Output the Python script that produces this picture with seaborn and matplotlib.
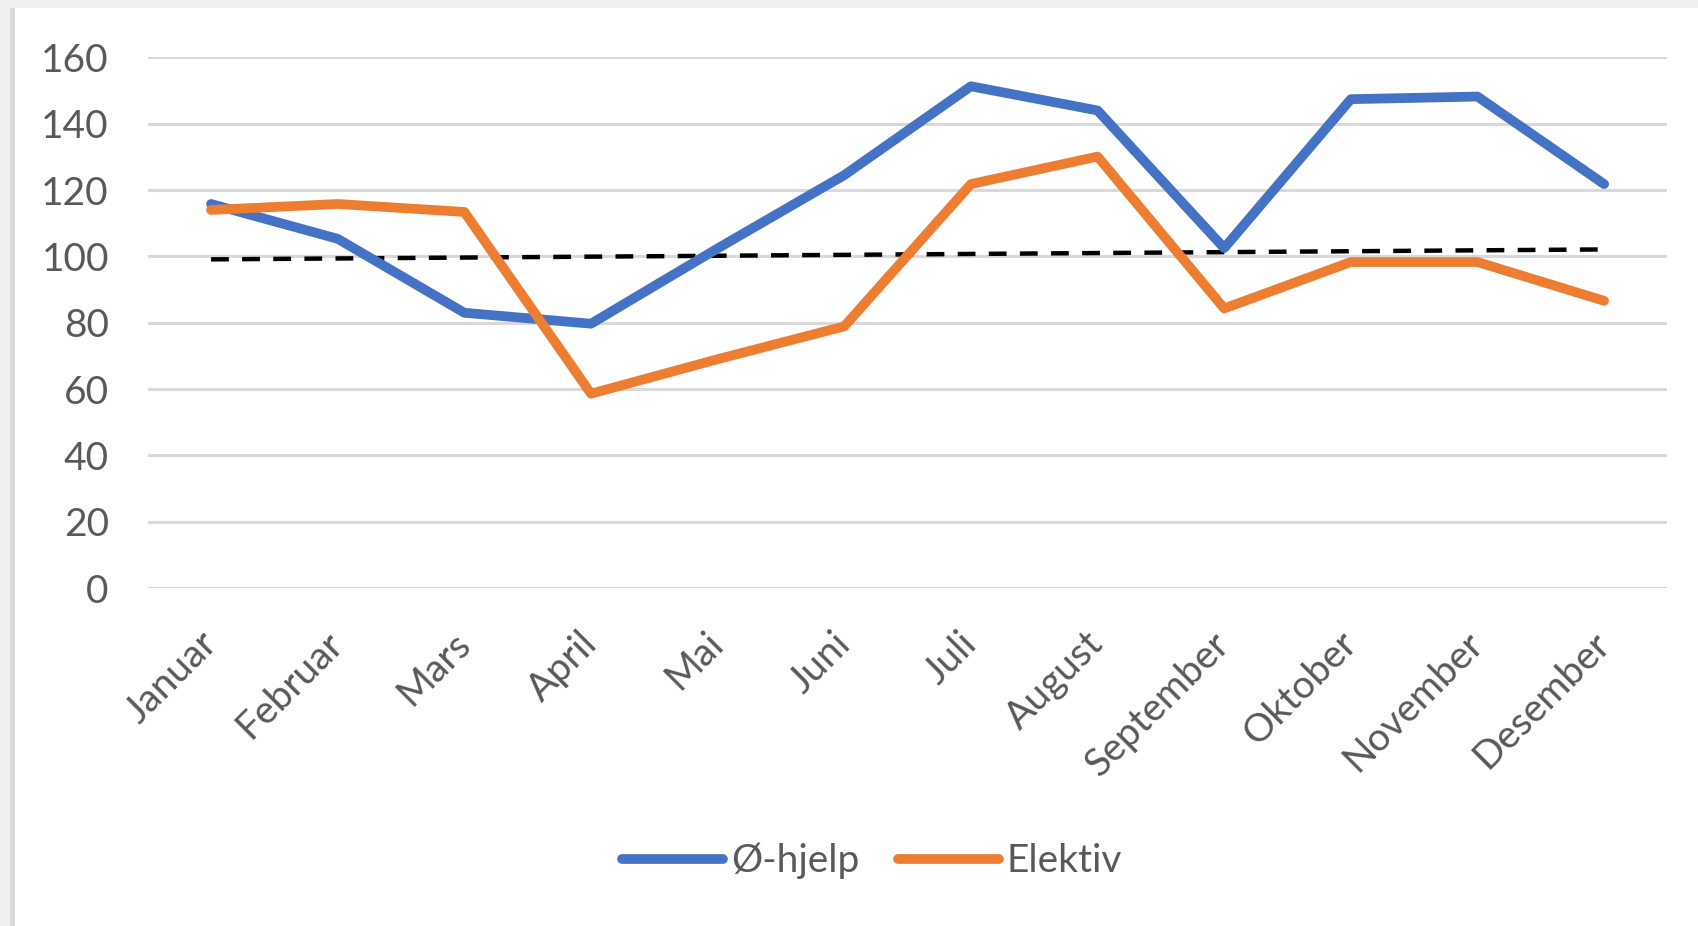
import matplotlib
matplotlib.use("Agg")
import matplotlib.pyplot as plt
from matplotlib.patches import Rectangle
import seaborn as sns
import pandas as pd
import numpy as np

months = ["Januar", "Februar", "Mars", "April", "Mai", "Juni", "Juli",
          "August", "September", "Oktober", "November", "Desember"]
o_hjelp = [115.8, 105.3, 83.0, 79.7, 102.4, 124.5, 151.3, 144.0, 102.5, 147.4, 148.2, 121.8]
elektiv = [114.0, 115.8, 113.4, 58.6, 69.0, 78.9, 121.8, 130.1, 84.3, 98.3, 98.3, 86.6]
trend_months = ["Januar", "Desember"]
trend_values = [99.1, 102.1]
series_names = ["Ø-hjelp", "Elektiv"]
yticks = [0, 20, 40, 60, 80, 100, 120, 140, 160]

BLUE = "#4472C4"
ORANGE = "#ED7D31"
TEXT = "#595959"
GRID = "#D9D9D9"

sns.set_theme(style="white")
plt.rcParams["font.family"] = ["Lato", "DejaVu Sans"]

df = pd.DataFrame({
    "Måned": months * 2,
    "pos": list(range(len(months))) * 2,
    "Verdi": o_hjelp + elektiv,
    "Serie": [series_names[0]] * len(months) + [series_names[1]] * len(months),
})
trend_df = pd.DataFrame({
    "pos": [months.index(m) for m in trend_months],
    "Verdi": trend_values,
})

fig = plt.figure(figsize=(16.98, 9.26), dpi=100)
ax = fig.add_axes([0.087, 0.365, 0.895, 0.573])

for y in yticks:
    ax.axhline(y, color=GRID, lw=2.2, zorder=0)

sns.lineplot(data=trend_df, x="pos", y="Verdi", ax=ax, color="black",
             lw=3.2, dashes=False, legend=False, zorder=2)
ax.lines[-1].set_linestyle((0, (4, 3)))

sns.lineplot(data=df, x="pos", y="Verdi", hue="Serie", hue_order=series_names,
             palette=[BLUE, ORANGE], lw=7, ax=ax, zorder=3, sort=False)
for ln in ax.lines:
    ln.set_solid_joinstyle("round")
    ln.set_solid_capstyle("round")

ax.set_xlim(-0.5, len(months) - 0.5)
ax.set_ylim(0, 160)
ax.set_yticks(yticks)
ax.set_yticklabels([str(v) for v in yticks])
ax.set_xticks(range(len(months)))
ax.set_xticklabels(months, rotation=45, ha="right", va="center",
                   rotation_mode="anchor")
ax.tick_params(axis="y", length=0, pad=28, labelsize=28, labelcolor=TEXT)
ax.tick_params(axis="x", length=0, pad=36, labelsize=28, labelcolor=TEXT)
ax.set_xlabel("")
ax.set_ylabel("")
for s in ax.spines.values():
    s.set_visible(False)

handles, labels = ax.get_legend_handles_labels()
leg = ax.legend(handles, labels, loc="center", bbox_to_anchor=(872 / 1698, 1 - 861 / 926),
                bbox_transform=fig.transFigure, ncol=2, frameon=False,
                fontsize=28, handlelength=2.6, handletextpad=0.2, columnspacing=1.0)
for t in leg.get_texts():
    t.set_color(TEXT)
for h in leg.legend_handles:
    h.set_linewidth(7)
    h.set_solid_capstyle("round")

# window frame
fig.add_artist(Rectangle((0, 1 - 8 / 926), 1, 8 / 926, transform=fig.transFigure,
                         color="#F0F0F0", lw=0))
fig.add_artist(Rectangle((0, 0), 10 / 1698, 1, transform=fig.transFigure,
                         color="#F0F0F0", lw=0))
fig.add_artist(Rectangle((10 / 1698, 0), 5 / 1698, 1 - 8 / 926, transform=fig.transFigure,
                         color="#D9D9D9", lw=0))

fig.savefig("out.png", dpi=100)
